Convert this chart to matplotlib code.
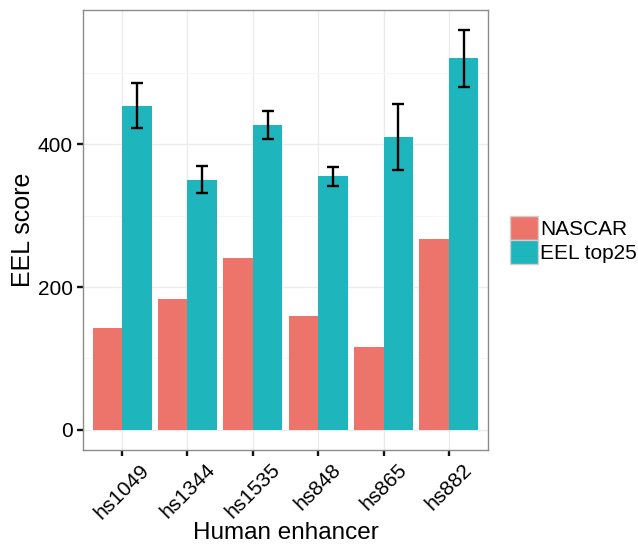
import numpy as np
import matplotlib
matplotlib.use("Agg")
import matplotlib.pyplot as plt
from matplotlib.patches import Patch

plt.rcParams['font.family'] = ['Liberation Sans', 'DejaVu Sans']

enhancers = ["hs1049", "hs1344", "hs1535", "hs848", "hs865", "hs882"]
nascar = [143, 183, 240, 159, 116, 267]
eel_top25 = [454, 350, 427, 355, 410, 520]
eel_err = [31, 19, 20, 13, 46, 40]

red = "#ED746B"
teal = "#1FB5BC"

fig = plt.figure(figsize=(6.38, 5.46), dpi=100)
ax = fig.add_axes([0.130, 0.176, 0.635, 0.806])

x = np.arange(1, len(enhancers) + 1)
w = 0.45
ax.bar(x - w / 2, nascar, width=w, color=red, zorder=2)
ax.bar(x + w / 2, eel_top25, width=w, color=teal, zorder=2)
ax.errorbar(x + w / 2, eel_top25, yerr=eel_err, fmt="none", ecolor="black",
            elinewidth=1.7, capsize=4.5, capthick=1.7, zorder=3)

top = max(np.array(eel_top25) + np.array(eel_err))
ax.set_xlim(0.4, len(enhancers) + 0.6)
ax.set_ylim(-0.05 * top, 1.05 * top)

ax.set_yticks([0, 200, 400])
ax.set_yticks([100, 300, 500], minor=True)
ax.set_xticks(x)
ax.set_xticklabels(enhancers, rotation=45, ha="center", va="top")
ax.grid(True, which="major", color="#EBEBEB", linewidth=1.0, zorder=0)
ax.grid(True, which="minor", axis="y", color="#F6F6F6", linewidth=0.8, zorder=0)
ax.set_axisbelow(True)

for s in ax.spines.values():
    s.set_color("#8C8C8C")
    s.set_linewidth(1.0)

ax.tick_params(axis="both", which="major", length=4.5, width=1.7, color="#111111",
               labelsize=15, labelcolor="black", pad=3)
ax.tick_params(axis="y", which="minor", length=0)

ax.set_xlabel("Human enhancer", fontsize=17.5, va="baseline")
ax.xaxis.set_label_coords(0.5, -0.203)
ax.set_ylabel("EEL score", fontsize=18, labelpad=2)

handles = [Patch(facecolor=red, edgecolor="#D0D0D0", label="NASCAR"),
           Patch(facecolor=teal, edgecolor="#D0D0D0", label="EEL top25")]
fig.legend(handles=handles, loc="center left", bbox_to_anchor=(0.799, 0.56),
           frameon=False, fontsize=15, handlelength=1.35, handleheight=1.4,
           handletextpad=0.12, labelspacing=0.0, borderaxespad=0,
           borderpad=0)

fig.savefig("out.png", dpi=100)
